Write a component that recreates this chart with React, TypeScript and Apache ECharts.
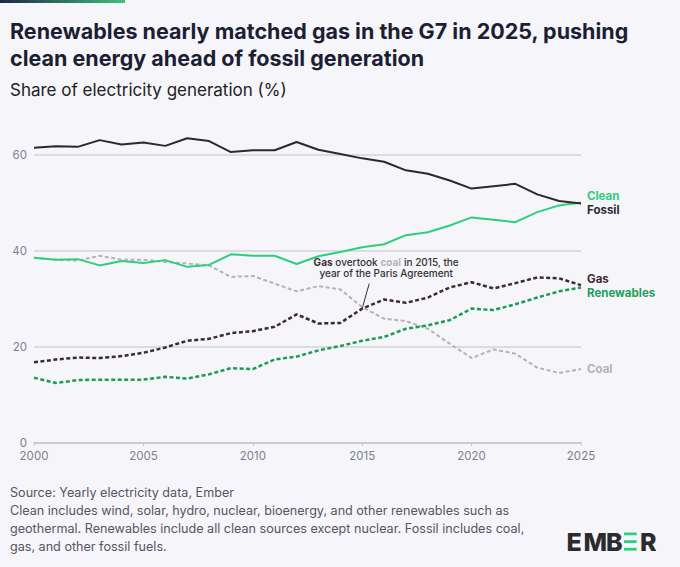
import React, { useEffect, useRef } from "react";
import * as echarts from "echarts";

const years = [2000, 2001, 2002, 2003, 2004, 2005, 2006, 2007, 2008, 2009, 2010, 2011, 2012, 2013, 2014, 2015, 2016, 2017, 2018, 2019, 2020, 2021, 2022, 2023, 2024, 2025];
const fossil = [61.5, 61.8, 61.7, 63.1, 62.2, 62.6, 61.9, 63.5, 62.9, 60.6, 61.0, 61.0, 62.7, 61.1, 60.2, 59.3, 58.6, 56.8, 56.1, 54.7, 53.0, 53.5, 54.0, 51.8, 50.4, 49.9];
const clean = [38.6, 38.2, 38.3, 37.0, 37.9, 37.5, 38.1, 36.7, 37.1, 39.3, 39.0, 39.0, 37.3, 38.9, 39.8, 40.8, 41.4, 43.3, 43.9, 45.3, 47.0, 46.5, 46.0, 48.1, 49.5, 50.1];
const gas = [16.8, 17.4, 17.8, 17.7, 18.1, 18.8, 19.9, 21.3, 21.7, 22.9, 23.3, 24.2, 26.8, 24.9, 25.0, 28.0, 29.9, 29.2, 30.3, 32.4, 33.5, 32.2, 33.3, 34.5, 34.3, 32.9];
const renewables = [13.6, 12.5, 13.1, 13.2, 13.2, 13.2, 13.8, 13.4, 14.3, 15.6, 15.4, 17.4, 18.0, 19.3, 20.2, 21.3, 22.1, 23.8, 24.5, 25.6, 28.0, 27.7, 28.9, 30.3, 31.6, 32.4];
const coal = [38.6, 38.2, 38.0, 39.0, 38.2, 38.2, 37.7, 37.4, 37.0, 34.6, 34.8, 33.2, 31.6, 32.7, 32.0, 28.3, 25.9, 25.4, 23.8, 20.7, 17.7, 19.5, 18.6, 15.7, 14.6, 15.4];
const yTicks = [0, 20, 40, 60];

const FONT = "Inter, 'Noto Sans', sans-serif";
const BG = "#f5f5fa";

const pairs = (vals: number[]) => years.map((y, i) => [y, vals[i]]);

export default function App() {
  const ref = useRef<HTMLDivElement>(null);
  useEffect(() => {
    if (!ref.current) return;
    const chart = echarts.init(ref.current, undefined, { renderer: "svg" });
    const mk = (
      name: string,
      vals: number[],
      color: string,
      labelColor: string,
      width: number,
      dashed: boolean,
      dy: number
    ) => ({
      name,
      type: "line",
      data: pairs(vals),
      showSymbol: false,
      symbol: "none",
      clip: false,
      lineStyle: { color, width, type: dashed ? [4, 2.5] : "solid", cap: "butt" },
      itemStyle: { color },
      emphasis: { disabled: true },
      endLabel: {
        show: true,
        formatter: name,
        color: labelColor,
        fontFamily: FONT,
        fontSize: 11.5,
        fontWeight: 700,
        distance: 6,
        offset: [0, dy],
      },
    });
    const logoLetter = (id: string, ch: string, x: number) => ({
      id,
      type: "text",
      x,
      y: 541.5,
      style: {
        text: ch,
        fontFamily: FONT,
        fontSize: 25,
        fontWeight: 800,
        fill: "#2b2b2e",
        verticalAlign: "middle",
      },
    });
    const option: any = {
      animation: false,
      backgroundColor: BG,
      title: [
        {
          left: 10,
          top: 17,
          padding: 0,
          text: "Renewables nearly matched gas in the G7 in 2025, pushing\nclean energy ahead of fossil generation",
          textStyle: { fontFamily: FONT, fontSize: 21.5, fontWeight: 700, color: "#1c1e33", lineHeight: 27 },
        },
        {
          left: 10,
          top: 79,
          padding: 0,
          text: "Share of electricity generation (%)",
          textStyle: { fontFamily: FONT, fontSize: 17, fontWeight: 400, color: "#222", lineHeight: 22 },
        },
      ],
      grid: { left: 34, right: 99, top: 155, bottom: 124, containLabel: false },
      xAxis: {
        type: "value",
        min: 2000,
        max: 2025,
        interval: 5,
        axisLine: { show: true, lineStyle: { color: "#c5c6ce", width: 1.5 } },
        axisTick: { show: true, length: 3, lineStyle: { color: "#c5c6ce" } },
        splitLine: { show: false },
        axisLabel: { color: "#7d808c", fontFamily: FONT, fontSize: 11.5, margin: 7, formatter: (v: number) => String(v) },
      },
      yAxis: {
        type: "value",
        min: 0,
        max: 60,
        interval: 20,
        axisLine: { show: false },
        axisTick: { show: false },
        splitLine: { show: true, lineStyle: { color: "#d2d3da", width: 1.5 } },
        axisLabel: {
          color: "#7d808c",
          fontFamily: FONT,
          fontSize: 11.5,
          margin: 7,
          formatter: (v: number) => (yTicks.includes(v) ? String(v) : ""),
        },
      },
      series: [
        mk("Coal", coal, "#b3b3b8", "#b3b3b8", 2, true, 0),
        mk("Renewables", renewables, "#1a9c57", "#1f9e5c", 2.5, true, 6),
        mk("Gas", gas, "#3d2b2e", "#3d2b2e", 2.5, true, -6),
        mk("Clean", clean, "#2dcf7c", "#2dcf7c", 2, false, -6.5),
        mk("Fossil", fossil, "#2a2a2e", "#2a2a2e", 2, false, 6.7),
      ],
      graphic: {
        elements: [
          {
            id: "topbar",
            type: "rect",
            left: 0,
            top: 0,
            shape: { width: 125, height: 3 },
            style: {
              fill: new echarts.graphic.LinearGradient(0, 0, 1, 0, [
                { offset: 0, color: "#1b2748" },
                { offset: 1, color: "#3cc27a" },
              ]),
            },
          },
          {
            id: "footer",
            type: "text",
            left: 10,
            top: 483,
            style: {
              text:
                "Source: Yearly electricity data, Ember\nClean includes wind, solar, hydro, nuclear, bioenergy, and other renewables such as\ngeothermal. Renewables include all clean sources except nuclear. Fossil includes coal,\ngas, and other fossil fuels.",
              fontFamily: FONT,
              fontSize: 12.6,
              lineHeight: 18,
              fill: "#555660",
            },
          },
          logoLetter("logoE", "E", 566.5),
          logoLetter("logoM", "M", 583.5),
          logoLetter("logoB", "B", 606),
          { id: "logoBar1", type: "rect", shape: { x: 624, y: 532.5, width: 12.7, height: 2.8 }, style: { fill: "#2dcf7c" } },
          { id: "logoBar2", type: "rect", shape: { x: 624, y: 540.2, width: 12.7, height: 2.8 }, style: { fill: "#2dcf7c" } },
          { id: "logoBar3", type: "rect", shape: { x: 624, y: 547.8, width: 12.7, height: 2.8 }, style: { fill: "#2dcf7c" } },
          logoLetter("logoR", "R", 640),
        ],
      },
    };
    chart.setOption(option);
    const p = chart.convertToPixel({ gridIndex: 0 }, [2015, gas[15]]) as number[];
    chart.setOption({
      graphic: {
        elements: [
          {
            id: "annLine",
            type: "line",
            shape: { x1: p[0], y1: p[1], x2: p[0] + 7, y2: p[1] - 25 },
            style: { stroke: "#333", lineWidth: 1 },
          },
          {
            id: "annText",
            type: "text",
            x: p[0] + 24,
            y: p[1] - 52,
            style: {
              text: "{g|Gas} {t|overtook} {c|coal} {t|in 2015, the}\n{t|year of the Paris Agreement}",
              align: "center",
              verticalAlign: "top",
              fontFamily: FONT,
              fontSize: 10,
              lineHeight: 11,
              rich: {
                g: { fontFamily: FONT, fontSize: 10, fontWeight: 700, fill: "#3d2b2e", lineHeight: 11 },
                c: { fontFamily: FONT, fontSize: 10, fontWeight: 700, fill: "#b3b3b8", lineHeight: 11 },
                t: { fontFamily: FONT, fontSize: 10, fontWeight: 500, fill: "#333", lineHeight: 11 },
              },
            },
          },
        ],
      },
    });
    return () => chart.dispose();
  }, []);
  return (
    <div
      ref={ref}
      style={{ position: "fixed", left: 0, top: 0, width: 680, height: 567, background: BG }}
    />
  );
}
